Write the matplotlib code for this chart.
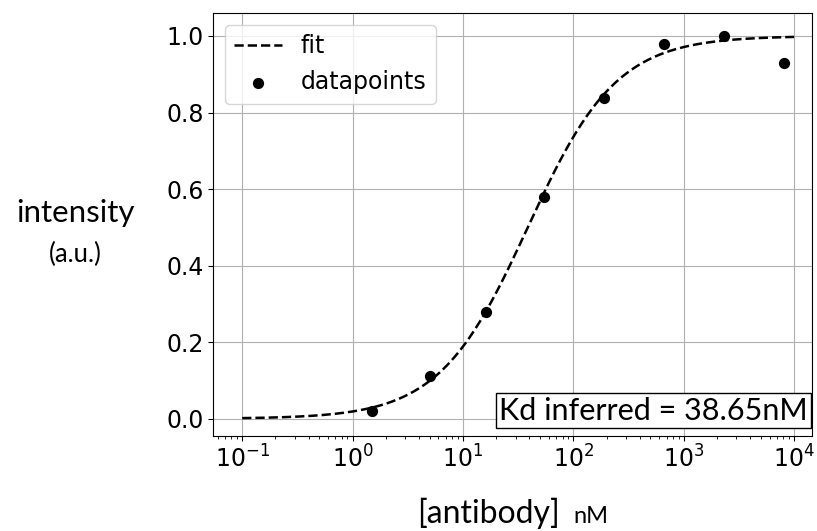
import matplotlib.pyplot as plt
import numpy as np

# measured binding data
antibody_nM = [1.51, 5.0, 16.2, 53.9, 188, 667, 2312, 8170]
intensity = [0.019, 0.112, 0.279, 0.580, 0.837, 0.978, 1.0, 0.930]

# fitted binding parameters
kd = 38.65
hill = 1.08
fit_range = (1e-1, 1e4)

plt.rcParams['font.family'] = 'DejaVu Sans'
plt.rcParams['font.size'] = 17
label_font = dict(family='Lato', weight='normal')


def hill_curve(x, kd, n):
    return x ** n / (x ** n + kd ** n)


fig = plt.figure(figsize=(8.17, 5.31), dpi=100)
ax = fig.add_axes([0.261, 0.179, 0.733, 0.7965])

x_fit = np.logspace(np.log10(fit_range[0]), np.log10(fit_range[1]), 300)
ax.plot(x_fit, hill_curve(x_fit, kd, hill), '--', color='black', lw=1.8, label='fit')
ax.scatter(antibody_nM, intensity, color='black', s=50, zorder=3, label='datapoints')

ax.set_xscale('log')
ax.set_xlim(10 ** -1.262, 10 ** 4.163)
ax.set_ylim(-0.045, 1.06)
ax.grid(True, color='#b0b0b0')
ax.legend(loc='upper left')

ax.text(0.993, 0.027, f'Kd inferred = {kd}nM', transform=ax.transAxes,
        ha='right', va='bottom', fontsize=22, **label_font,
        bbox=dict(boxstyle='square,pad=0.1', fc='white', ec='black'))

# axis labels, units set smaller
fig.text(75 / 817, 1 - 222 / 531, 'intensity', ha='center', va='baseline',
         fontsize=22.5, **label_font)
fig.text(75 / 817, 1 - 262 / 531, '(a.u.)', ha='center', va='baseline',
         fontsize=18.5, **label_font)
fig.text(560 / 817, 1 - 523 / 531, '[antibody]', ha='right', va='baseline',
         fontsize=23, **label_font)
fig.text(573 / 817, 1 - 523 / 531, 'nM', ha='left', va='baseline',
         fontsize=17, **label_font)

fig.savefig('out.png', dpi=100)
